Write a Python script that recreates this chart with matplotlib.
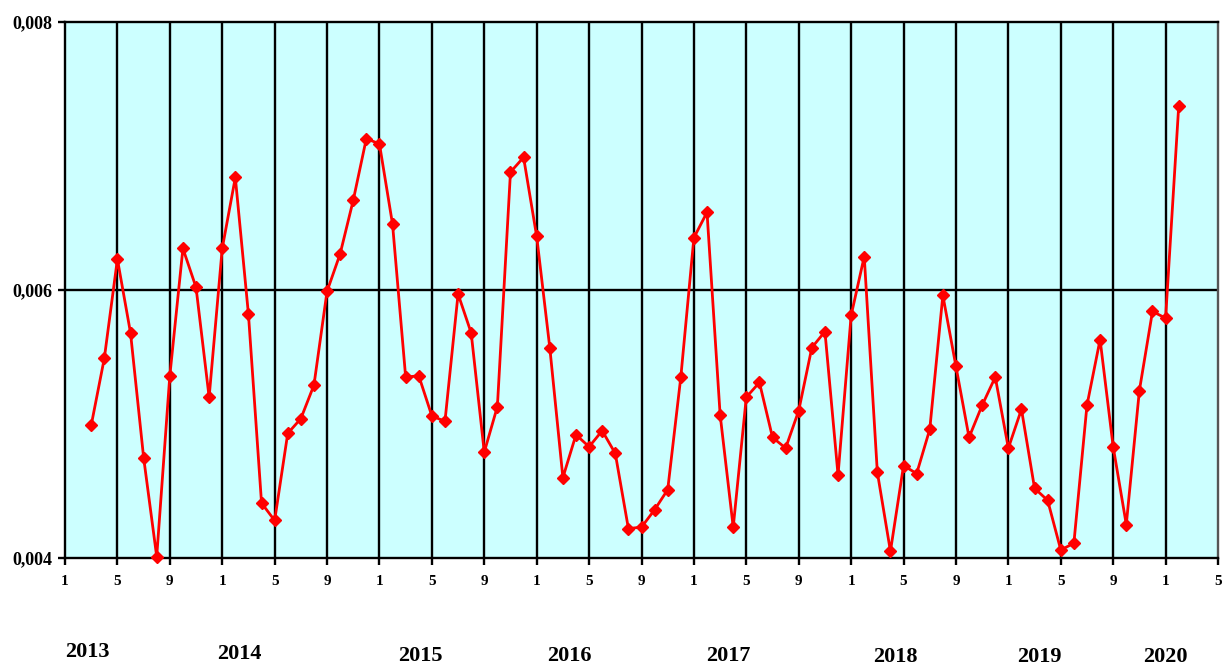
import matplotlib.pyplot as plt
import matplotlib.transforms as mtransforms
import numpy as np

# monthly values, 2013-03 .. 2020-02
values = [
    0.00499, 0.00549, 0.00623, 0.00568, 0.00475, 0.00401, 0.00536, 0.00631, 0.00602, 0.00520,
    0.00631, 0.00684, 0.00582, 0.00441, 0.00428, 0.00493, 0.00504, 0.00529, 0.00599, 0.00627,
    0.00667, 0.00713, 0.00709, 0.00649, 0.00535, 0.00536, 0.00506, 0.00502, 0.00597, 0.00568,
    0.00479, 0.00513, 0.00688, 0.00699, 0.00640, 0.00557, 0.00460, 0.00492, 0.00483, 0.00495,
    0.00478, 0.00422, 0.00423, 0.00436, 0.00451, 0.00535, 0.00639, 0.00658, 0.00507, 0.00423,
    0.00520, 0.00531, 0.00490, 0.00482, 0.00510, 0.00557, 0.00569, 0.00462, 0.00581, 0.00625,
    0.00464, 0.00405, 0.00469, 0.00463, 0.00496, 0.00596, 0.00543, 0.00490, 0.00514, 0.00535,
    0.00482, 0.00511, 0.00452, 0.00443, 0.00406, 0.00411, 0.00514, 0.00563, 0.00483, 0.00425,
    0.00525, 0.00584, 0.00579, 0.00737,
]
start_month = 2  # months after 2013-01
years = ['2013', '2014', '2015', '2016', '2017', '2018', '2019', '2020']
year_x = [1.7, 13.3, 27.1, 38.5, 50.6, 63.4, 74.4, 84.0]
year_y = [0.017, 0.014, 0.011, 0.011, 0.010, 0.009, 0.009, 0.009]
tick_pos = np.arange(0, 89, 4)
tick_labels = [str(1 + (p % 12)) for p in tick_pos]
y_ticks = [0.004, 0.006, 0.008]
y_labels = ['0,004', '0,006', '0,008']

plt.rcParams['font.family'] = ['Liberation Serif', 'DejaVu Serif']
plt.rcParams['font.weight'] = 'bold'

fig = plt.figure(figsize=(12.26, 6.68), dpi=100)
ax = fig.add_axes([65 / 1226, 1 - 558 / 668, (1218 - 65) / 1226, (558 - 22) / 668])
ax.set_facecolor('#CCFFFF')

x = np.arange(len(values)) + start_month

# vertical grid at every tick, one horizontal line at the middle
for p in tick_pos[1:-1]:
    ax.axvline(p, color='black', linewidth=1.7, zorder=1)
ax.axhline(0.006, color='black', linewidth=1.7, zorder=1)

ax.plot(x, values, color='#FF0000', linewidth=2.0, marker='D', markersize=6.5,
        markerfacecolor='#FF0000', markeredgecolor='#FF0000', zorder=3, clip_on=False)

ax.set_xlim(0, 88)
ax.set_ylim(0.004, 0.008)
ax.set_xticks(tick_pos)
ax.set_xticklabels(tick_labels, fontsize=11, fontweight='bold')
ax.set_yticks(y_ticks)
ax.set_yticklabels(y_labels, fontsize=13, fontweight='bold')
ax.tick_params(axis='both', direction='out', length=5, width=1.7, color='black')
ax.tick_params(axis='x', pad=7)
ax.tick_params(axis='y', pad=4)

for s in ax.spines.values():
    s.set_linewidth(1.7)
    s.set_color('black')
ax.spines['right'].set_color('#555555')

# year labels sit below the month ticks, stepping slightly downward
trans = mtransforms.blended_transform_factory(ax.transData, fig.transFigure)
for lab, xp, yp in zip(years, year_x, year_y):
    ax.text(xp, yp, lab, transform=trans, ha='center', va='baseline',
            fontsize=16, fontweight='bold', clip_on=False)

plt.savefig('out.png', dpi=100)
plt.close()
